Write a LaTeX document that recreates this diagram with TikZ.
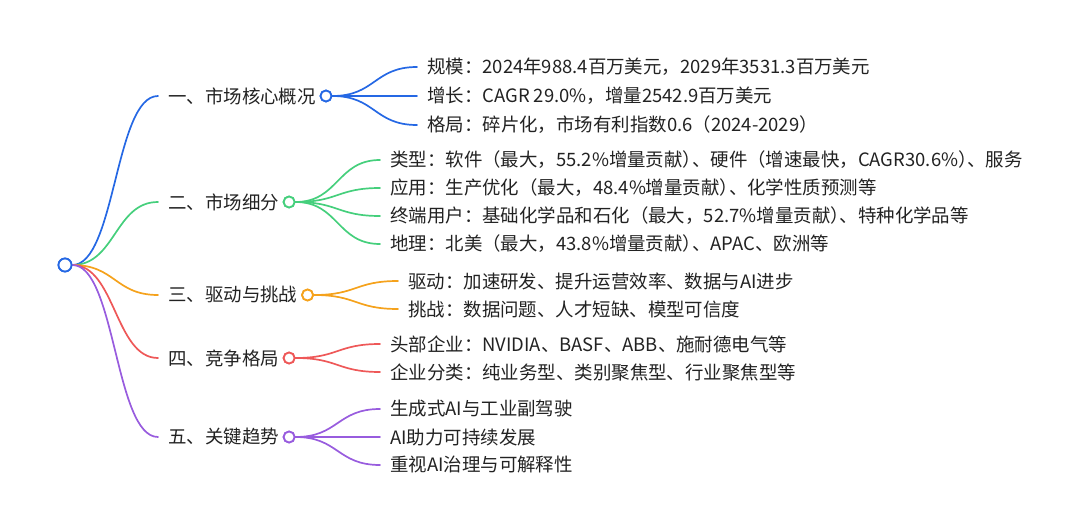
\documentclass[tikz,border=0pt]{standalone}
\usepackage{fontspec}
\setmainfont{Noto Sans CJK SC}
\definecolor{cblue}{HTML}{2568E4}
\definecolor{cgreen}{HTML}{45CF7C}
\definecolor{corange}{HTML}{F5A21C}
\definecolor{cred}{HTML}{EE5858}
\definecolor{cpurple}{HTML}{985CDE}
\definecolor{ctext}{HTML}{222222}
\newcommand\pkern{\kern-0.5em}
\begin{document}
\begin{tikzpicture}[x=1pt,y=-1pt,
  txt/.style={anchor=west,inner xsep=10pt,inner ysep=2pt,font=\fontsize{18.45}{21}\selectfont,text=ctext},
  dot/.style={circle,draw,fill=white,line width=1.8pt,minimum size=11pt,inner sep=0pt},
  link/.style={line width=1.7pt,line cap=round}]
\useasboundingbox (0,0) rectangle (1080,532);
% root
\node[dot,draw=cblue,minimum size=13pt] (r) at (65,265) {};
% branches
\node[txt] (b1) at (158,96) {一、市场核心概况};
\node[txt] (b2) at (158,202) {二、市场细分};
\node[txt] (b3) at (158,295) {三、驱动与挑战};
\node[txt] (b4) at (158,358) {四、竞争格局};
\node[txt] (b5) at (158,437) {五、关键趋势};
% children
\node[txt] (a1) at (417,67) {规模：2024年988.4百万美元，2029年3531.3百万美元};
\node[txt] (a2) at (417,96) {增长：CAGR 29.0\%，增量2542.9百万美元};
\node[txt] (a3) at (417,125) {格局：碎片化，市场有利指数0.6（2024-2029）};
\node[txt] (g1) at (380,160) {类型：软件（最大，55.2\%增量贡献）\pkern、硬件（增速最快，CAGR30.6\%）\pkern、服务};
\node[txt] (g2) at (380,188) {应用：生产优化（最大，48.4\%增量贡献）\pkern、化学性质预测等};
\node[txt] (g3) at (380,216) {终端用户：基础化学品和石化（最大，52.7\%增量贡献）\pkern、特种化学品等};
\node[txt] (g4) at (380,244) {地理：北美（最大，43.8\%增量贡献）\pkern、APAC、欧洲等};
\node[txt] (o1) at (398,281) {驱动：加速研发、提升运营效率、数据与AI进步};
\node[txt] (o2) at (398,309) {挑战：数据问题、人才短缺、模型可信度};
\node[txt] (d1) at (380,344) {头部企业：NVIDIA、BASF、ABB、施耐德电气等};
\node[txt] (d2) at (380,372) {企业分类：纯业务型、类别聚焦型、行业聚焦型等};
\node[txt] (p1) at (380,409) {生成式AI与工业副驾驶};
\node[txt] (p2) at (380,437) {AI助力可持续发展};
\node[txt] (p3) at (380,465) {重视AI治理与可解释性};
% root links
\draw[link,cblue]   (r.east) .. controls +(43,0) and +(-43,0) .. (b1.west);
\draw[link,cgreen]  (r.east) .. controls +(43,0) and +(-43,0) .. (b2.west);
\draw[link,corange] (r.east) .. controls +(43,0) and +(-43,0) .. (b3.west);
\draw[link,cred]    (r.east) .. controls +(43,0) and +(-43,0) .. (b4.west);
\draw[link,cpurple] (r.east) .. controls +(43,0) and +(-43,0) .. (b5.west);
% branch circles
\node[dot,draw=cblue]   (c1) at (b1.east) {};
\node[dot,draw=cgreen]  (c2) at (b2.east) {};
\node[dot,draw=corange] (c3) at (b3.east) {};
\node[dot,draw=cred]    (c4) at (b4.east) {};
\node[dot,draw=cpurple] (c5) at (b5.east) {};
% child links
\foreach \n in {a1,a2,a3}{\draw[link,cblue] (c1.east) .. controls +(43,0) and +(-43,0) .. (\n.west);}
\foreach \n in {g1,g2,g3,g4}{\draw[link,cgreen] (c2.east) .. controls +(43,0) and +(-43,0) .. (\n.west);}
\foreach \n in {o1,o2}{\draw[link,corange] (c3.east) .. controls +(43,0) and +(-43,0) .. (\n.west);}
\foreach \n in {d1,d2}{\draw[link,cred] (c4.east) .. controls +(43,0) and +(-43,0) .. (\n.west);}
\foreach \n in {p1,p2,p3}{\draw[link,cpurple] (c5.east) .. controls +(43,0) and +(-43,0) .. (\n.west);}
% redraw circles on top
\node[dot,draw=cblue,minimum size=13pt] at (r) {};
\foreach \c/\col in {c1/cblue,c2/cgreen,c3/corange,c4/cred,c5/cpurple}{\node[dot,draw=\col] at (\c) {};}
\end{tikzpicture}
\end{document}
